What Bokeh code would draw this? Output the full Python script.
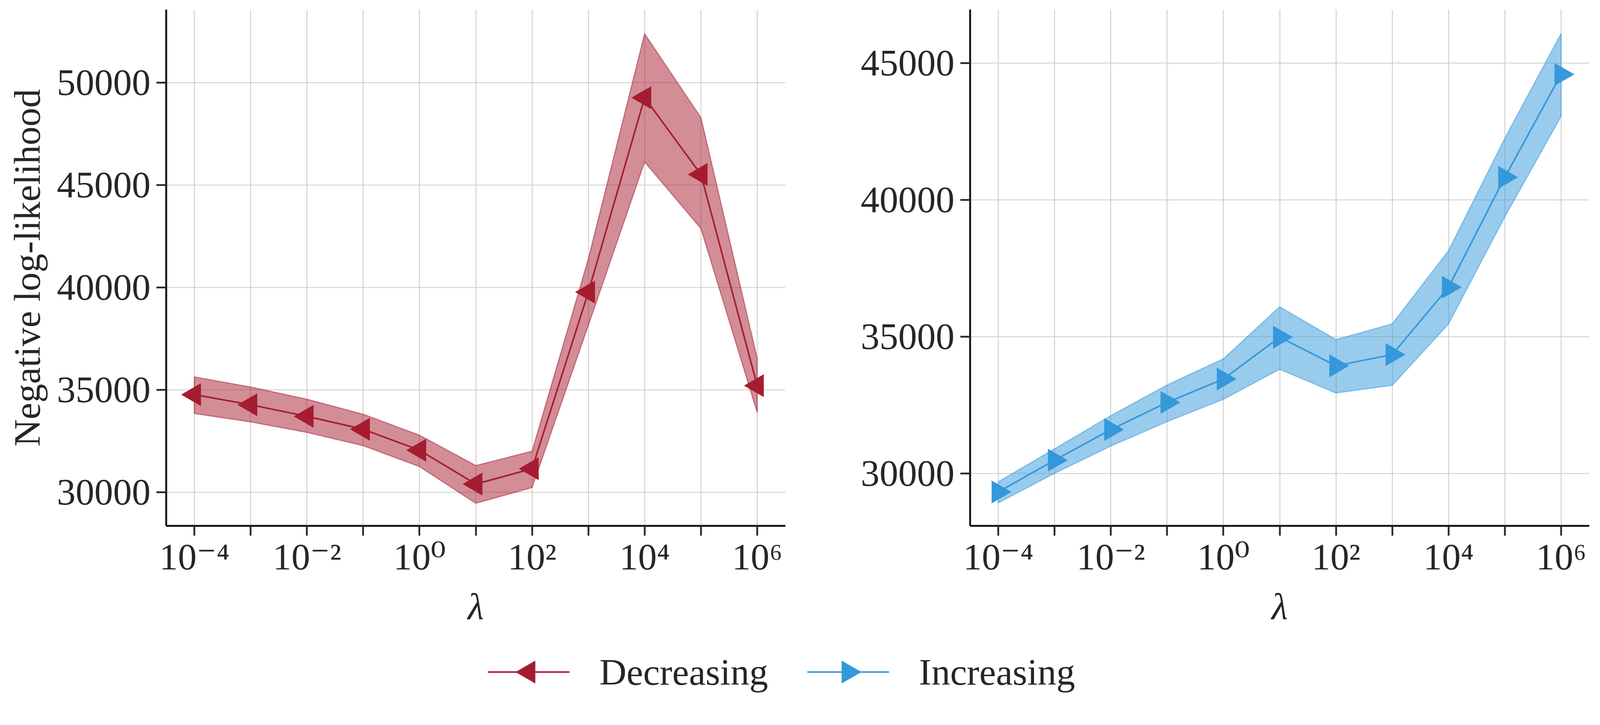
import math
from bokeh.plotting import figure
from bokeh.models import Range1d, FixedTicker
from bokeh.layouts import row, column
from bokeh.core.properties import value
from bokeh.embed import file_html
from bokeh.resources import INLINE

# ---------------- data ----------------
lambdas = [1e-4, 1e-3, 1e-2, 1e-1, 1e0, 1e1, 1e2, 1e3, 1e4, 1e5, 1e6]
x_tick_labels = ["10\u207b\u2074", "", "10\u207b\u00b2", "", "10\u2070", "",
                 "10\u00b2", "", "10\u2074", "", "10\u2076"]

dec_mean = [34760, 34266, 33700, 33069, 32046, 30392, 31142, 39770, 49267, 45516, 35200]
dec_upper = [35627, 35132, 34535, 33802, 32779, 31296, 31995, 41390, 52387, 48295, 36530]
dec_lower = [33840, 33427, 32916, 32268, 31245, 29454, 30222, 38150, 46130, 42873, 33888]

inc_mean = [29330, 30490, 31607, 32602, 33457, 34987, 33941, 34349, 36811, 40829, 44592]
inc_upper = [29700, 30906, 32117, 33240, 34196, 36097, 34898, 35472, 38150, 42258, 46084]
inc_lower = [28929, 30013, 31008, 31900, 32717, 33814, 32946, 33227, 35472, 39388, 43061]

left_yticks = [30000, 35000, 40000, 45000, 50000]
right_yticks = [30000, 35000, 40000, 45000]

series_labels = ["Decreasing", "Increasing"]
RED = "#A51C30"
BLUE = "#3498DB"

FONT = "Liberation Serif, DejaVu Serif"
TXT = "#262626"
FS = "96px"
MSIZE = 57


def style(p, yticks):
    p.outline_line_color = None
    p.background_fill_color = "white"
    p.border_fill_color = "white"
    p.xaxis.ticker = FixedTicker(ticks=lambdas, minor_ticks=[])
    p.yaxis.ticker = FixedTicker(ticks=yticks, minor_ticks=[])
    p.xgrid.ticker = FixedTicker(ticks=lambdas, minor_ticks=[])
    p.ygrid.ticker = FixedTicker(ticks=yticks, minor_ticks=[])
    p.xaxis.major_label_overrides = {t: s for t, s in zip(lambdas, x_tick_labels)}
    p.yaxis.major_label_overrides = {t: str(t) for t in yticks}
    for ax in (p.xaxis, p.yaxis):
        ax.axis_line_color = "#1a1a1a"
        ax.axis_line_width = 5
        ax.major_tick_line_color = "#262626"
        ax.major_tick_line_width = 4.5
        ax.major_tick_in = 0
        ax.major_tick_out = 25
        ax.minor_tick_line_color = None
        ax.major_label_text_font = FONT
        ax.major_label_text_font_size = FS
        ax.major_label_text_color = TXT
        ax.axis_label_text_font = FONT
        ax.axis_label_text_font_size = FS
        ax.axis_label_text_color = TXT
        ax.axis_label_text_font_style = "normal"
    p.xaxis.major_label_standoff = 0
    p.yaxis.major_label_standoff = 15
    p.xaxis.axis_label = "\u03bb"
    p.xaxis.axis_label_text_font_style = "italic"
    p.xaxis.axis_label_standoff = 17
    p.yaxis.axis_label_standoff = 20
    for g in (p.xgrid, p.ygrid):
        g.grid_line_color = "#cccccc"
        g.grid_line_width = 2.2


def draw(p, mean, upper, lower, color, angle):
    xs = lambdas + lambdas[::-1]
    ys = upper + lower[::-1]
    p.patch(xs, ys, fill_color=color, fill_alpha=0.5,
            line_color=color, line_alpha=0.5, line_width=3)
    p.line(lambdas, mean, line_color=color, line_width=4)
    p.scatter(lambdas, mean, marker="triangle", size=MSIZE, angle=angle,
              fill_color=color, line_color=color, line_width=1)


FW, FH = 1585, 1321

p1 = figure(x_axis_type="log", x_range=Range1d(10 ** -4.5, 10 ** 6.5),
            y_range=Range1d(28350, 53570),
            frame_width=FW, frame_height=FH,
            min_border_left=425, min_border_right=60,
            min_border_top=24, min_border_bottom=287,
            toolbar_location=None, output_backend="svg")
style(p1, left_yticks)
p1.yaxis.axis_label = "Negative log-likelihood"
draw(p1, dec_mean, dec_upper, dec_lower, RED, math.pi / 2)

p2 = figure(x_axis_type="log", x_range=Range1d(10 ** -4.5, 10 ** 6.5),
            y_range=Range1d(28090, 46960),
            frame_width=FW, frame_height=FH,
            min_border_left=413, min_border_right=12,
            min_border_top=24, min_border_bottom=287,
            toolbar_location=None, output_backend="svg")
style(p2, right_yticks)
draw(p2, inc_mean, inc_upper, inc_lower, BLUE, -math.pi / 2)

# ---------------- legend row (pixel-space figure) ----------------
LEG_W, LEG_H = 4080, 174
leg = figure(width=LEG_W, height=LEG_H, x_range=Range1d(8, 8 + LEG_W),
             y_range=Range1d(0, LEG_H),
             x_axis_location=None, y_axis_location=None,
             min_border=0, toolbar_location=None, output_backend="svg")
leg.outline_line_color = None
leg.xgrid.visible = False
leg.ygrid.visible = False

entry_x0 = [1258, 2076]      # left end of each legend symbol
glyph_w = 206
label_gap = 78
yc = LEG_H / 2
for x0, label, color, angle in zip(entry_x0, series_labels, [RED, BLUE],
                                   [math.pi / 2, -math.pi / 2]):
    leg.segment(x0=[x0], y0=[yc], x1=[x0 + glyph_w], y1=[yc],
                line_color=color, line_width=4, line_cap="round")
    leg.scatter([x0 + glyph_w / 2], [yc], marker="triangle", size=MSIZE, angle=angle,
                fill_color=color, line_color=color, line_width=1)
    leg.text([x0 + glyph_w + label_gap], [yc], text=[label],
             text_font=value(FONT), text_font_size=value(FS), text_color=TXT,
             text_baseline="middle", text_align="left")

layout = column(row(p1, p2), leg)
open("out.html", "w").write(file_html(layout, INLINE))
